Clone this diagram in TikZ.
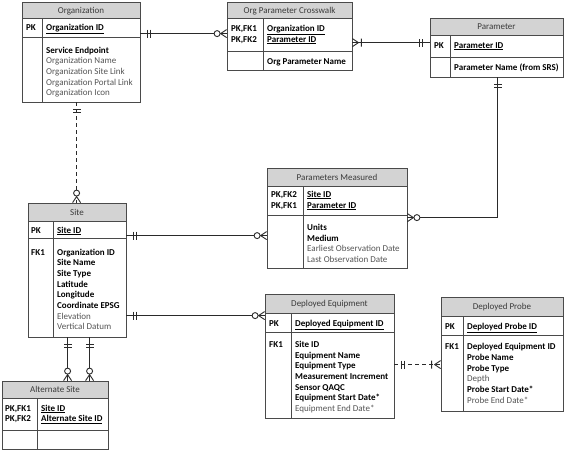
\documentclass[tikz,border=0pt]{standalone}
\usepackage{fontspec}
\setmainfont{Carlito}
\usetikzlibrary{fit}
\definecolor{hdr}{HTML}{D3D3D3}
\definecolor{bord}{HTML}{4A4A4A}
\definecolor{gtxt}{HTML}{555555}
\definecolor{ttxt}{HTML}{3A3A3A}
\definecolor{ln}{HTML}{2A2A2A}
\tikzset{
  ebox/.style={draw=bord, line width=0.8pt, inner sep=0pt},
  sepl/.style={draw=bord, line width=0.8pt},
  conn/.style={draw=ln, line width=0.9pt},
  dashconn/.style={conn, dash pattern=on 4pt off 3pt},
  fldtxt/.style={inner sep=0pt, anchor=base west, font=\fontsize{9}{11}\selectfont, text=black},
  ttltxt/.style={inner sep=0pt, anchor=base, font=\fontsize{9}{11}\selectfont, text=ttxt},
  mandone/.pic={\draw[conn, solid] (7,-4) -- (7,4) (10,-4) -- (10,4);},
  zeromany/.pic={\draw[conn, solid] (0,-4) -- (6,0) -- (0,4);
                 \draw[conn, solid, fill=white] (9.5,0) circle (3pt);},
  onemany/.pic={\draw[conn, solid] (0,-4) -- (6,0) -- (0,4) (9,-4) -- (9,4);}
}
% entity: name, x1, y1, x2, y2, header y, pk y, divider x, title
\newcommand\entity[9]{%
  \fill[hdr] (#2,#3) rectangle (#4,#6);
  \draw[sepl] (#2,#6) -- (#4,#6) (#2,#7) -- (#4,#7) (#8,#6) -- (#8,#5);
  \node[ebox, fit={(#2,#3) (#4,#5)}] (#1) {};
  \node[ttltxt] (#1-t) at ({(#2+#4)/2},{(#3+#6)/2+3}) {#9};
}
\newcommand\fl[4]{\node[fldtxt] (#1) at (#2,{#3+3}) {#4};}
\newcommand\kf[1]{\textbf{\underline{#1}}}
\newcommand\gt[1]{\textcolor{gtxt}{#1}}
\begin{document}
\begin{tikzpicture}[x=1pt, y=-1pt]
\fill[white] (0,0) rectangle (567,451);
\useasboundingbox (0,0) rectangle (567,451);

% ---------- Organization ----------
\entity{org}{22}{2}{140}{102}{18}{37}{42}{Organization}
\fl{org-k1}{26}{27}{\textbf{PK}}
\fl{org-a1}{46}{27}{\kf{Organization ID}}
\fl{org-a2}{46}{50}{\textbf{Service Endpoint}}
\fl{org-a3}{46}{60.7}{\gt{Organization Name}}
\fl{org-a4}{46}{71.4}{\gt{Organization Site Link}}
\fl{org-a5}{46}{82.1}{\gt{Organization Portal Link}}
\fl{org-a6}{46}{92.8}{\gt{Organization Icon}}

% ---------- Org Parameter Crosswalk ----------
\entity{cw}{227}{2}{352}{70}{18}{51}{263}{Org Parameter Crosswalk}
\fl{cw-k1}{231}{28}{\textbf{PK,FK1}}
\fl{cw-k2}{231}{39}{\textbf{PK,FK2}}
\fl{cw-a1}{267}{28}{\kf{Organization ID}}
\fl{cw-a2}{267}{39}{\kf{Parameter ID}}
\fl{cw-a3}{267}{61}{\textbf{Org Parameter Name}}

% ---------- Parameter ----------
\entity{par}{430}{18}{563}{77}{35}{57}{450}{Parameter}
\fl{par-k1}{434}{45}{\textbf{PK}}
\fl{par-a1}{454}{45}{\kf{Parameter ID}}
\fl{par-a2}{454}{67}{\textbf{Parameter Name (from SRS)}}

% ---------- Parameters Measured ----------
\entity{pm}{267}{168}{407}{268}{186}{215}{303}{Parameters Measured}
\fl{pm-k1}{271}{194}{\textbf{PK,FK2}}
\fl{pm-k2}{271}{205}{\textbf{PK,FK1}}
\fl{pm-a1}{307}{194}{\kf{Site ID}}
\fl{pm-a2}{307}{205}{\kf{Parameter ID}}
\fl{pm-a3}{307}{227}{\textbf{Units}}
\fl{pm-a4}{307}{238}{\textbf{Medium}}
\fl{pm-a5}{307}{248.7}{\gt{Earliest Observation Date}}
\fl{pm-a6}{307}{259.4}{\gt{Last Observation Date}}

% ---------- Site ----------
\entity{site}{28}{203}{126}{337}{221}{238}{53}{Site}
\fl{site-k1}{31}{230}{\textbf{PK}}
\fl{site-k2}{31}{252}{\textbf{FK1}}
\fl{site-a1}{57}{230}{\kf{Site ID}}
\fl{site-a2}{57}{252}{\textbf{Organization ID}}
\fl{site-a3}{57}{262.7}{\textbf{Site Name}}
\fl{site-a4}{57}{273.4}{\textbf{Site Type}}
\fl{site-a5}{57}{284.1}{\textbf{Latitude}}
\fl{site-a6}{57}{294.8}{\textbf{Longitude}}
\fl{site-a7}{57}{305.5}{\textbf{Coordinate EPSG}}
\fl{site-a8}{57}{316.2}{\gt{Elevation}}
\fl{site-a9}{57}{326.9}{\gt{Vertical Datum}}

% ---------- Deployed Equipment ----------
\entity{de}{265}{294}{394}{418}{313}{332}{291}{Deployed Equipment}
\fl{de-k1}{269}{323}{\textbf{PK}}
\fl{de-k2}{269}{344.3}{\textbf{FK1}}
\fl{de-a1}{295}{323}{\kf{Deployed Equipment ID}}
\fl{de-a2}{295}{344.3}{\textbf{Site ID}}
\fl{de-a3}{295}{355}{\textbf{Equipment Name}}
\fl{de-a4}{295}{365.7}{\textbf{Equipment Type}}
\fl{de-a5}{295}{376.4}{\textbf{Measurement Increment}}
\fl{de-a6}{295}{387.1}{\textbf{Sensor QAQC}}
\fl{de-a7}{295}{397.8}{\textbf{Equipment Start Date*}}
\fl{de-a8}{295}{408.5}{\gt{Equipment End Date*}}

% ---------- Deployed Probe ----------
\entity{dp}{441}{297}{563}{411}{316}{335}{463}{Deployed Probe}
\fl{dp-k1}{445}{326}{\textbf{PK}}
\fl{dp-k2}{445}{346.7}{\textbf{FK1}}
\fl{dp-a1}{467}{326}{\kf{Deployed Probe ID}}
\fl{dp-a2}{467}{346.7}{\textbf{Deployed Equipment ID}}
\fl{dp-a3}{467}{357.4}{\textbf{Probe Name}}
\fl{dp-a4}{467}{368.1}{\textbf{Probe Type}}
\fl{dp-a5}{467}{378.8}{\gt{Depth}}
\fl{dp-a6}{467}{389.5}{\textbf{Probe Start Date*}}
\fl{dp-a7}{467}{400.2}{\gt{Probe End Date*}}

% ---------- Alternate Site ----------
\entity{alt}{2}{381}{108}{449}{398}{430}{37}{Alternate Site}
\fl{alt-k1}{5}{408}{\textbf{PK,FK1}}
\fl{alt-k2}{5}{418.5}{\textbf{PK,FK2}}
\fl{alt-a1}{41}{408}{\kf{Site ID}}
\fl{alt-a2}{41}{418.5}{\kf{Alternate Site ID}}

% ---------- connectors ----------
% Organization -- Crosswalk
\coordinate (c1) at ([yshift=-32pt]org.north east);
\draw[conn] (c1) -- (c1 -| cw.west);
\pic at (c1) {mandone};
\pic[rotate=180] at (c1 -| cw.west) {zeromany};

% Crosswalk -- Parameter
\coordinate (c2) at ([yshift=-41pt]cw.north east);
\draw[conn] (c2) -- (c2 -| par.west);
\pic at (c2) {onemany};
\pic[rotate=180] at (c2 -| par.west) {mandone};

% Parameter -- Parameters Measured
\coordinate (c3) at ([xshift=68pt]par.south west);
\coordinate (c4) at ([yshift=-50pt]pm.north east);
\draw[conn] (c3) -- (c3 |- c4) -- (c4);
\pic[rotate=-90] at (c3) {mandone};
\pic at (c4) {zeromany};

% Organization -- Site (dashed)
\coordinate (c5) at ([xshift=55pt]org.south west);
\draw[dashconn] (c5) -- (c5 |- site.north);
\pic[rotate=-90] at (c5) {mandone};
\pic[rotate=90] at (c5 |- site.north) {zeromany};

% Site -- Parameters Measured
\coordinate (c6) at ([yshift=-33pt]site.north east);
\draw[conn] (c6) -- (c6 -| pm.west);
\pic at (c6) {mandone};
\pic[rotate=180] at (c6 -| pm.west) {zeromany};

% Site -- Deployed Equipment
\coordinate (c7) at ([yshift=-113pt]site.north east);
\draw[conn] (c7) -- (c7 -| de.west);
\pic at (c7) {mandone};
\pic[rotate=180] at (c7 -| de.west) {zeromany};

% Deployed Equipment -- Deployed Probe (dashed)
\coordinate (c8) at ([yshift=-71pt]de.north east);
\draw[dashconn] (c8) -- (c8 -| dp.west);
\pic at (c8) {mandone};
\pic[rotate=180] at (c8 -| dp.west) {onemany};

% Site -- Alternate Site (two relationships)
\coordinate (c9) at ([xshift=40pt]site.south west);
\coordinate (c10) at ([xshift=62pt]site.south west);
\draw[conn] (c9) -- (c9 |- alt.north);
\draw[conn] (c10) -- (c10 |- alt.north);
\pic[rotate=-90] at (c9) {mandone};
\pic[rotate=-90] at (c10) {mandone};
\pic[rotate=90] at (c9 |- alt.north) {zeromany};
\pic[rotate=90] at (c10 |- alt.north) {zeromany};
\end{tikzpicture}
\end{document}
